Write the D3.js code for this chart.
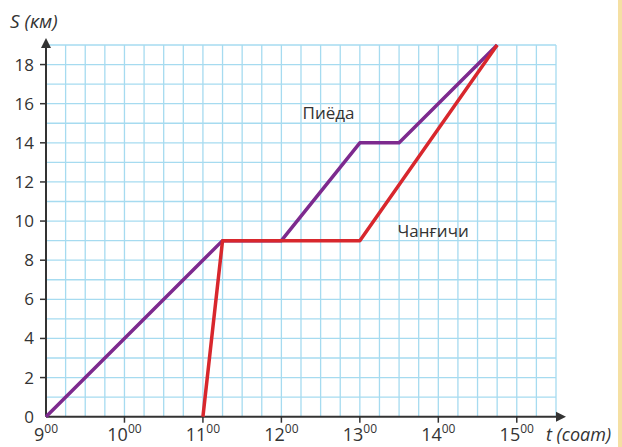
<!DOCTYPE html>
<html>
<head>
<meta charset="utf-8">
<script src="https://cdn.jsdelivr.net/npm/d3@7"></script>
<style>
    body { margin: 0; background: #fff; }
    svg text { font-family: "Open Sans", "Noto Sans", sans-serif; fill: #333; }
</style>
</head>
<body>
<div id="chart"></div>
<script>
// hours on x, km on y
var hourTicks = [9, 10, 11, 12, 13, 14, 15];
var kmTicks = [0, 2, 4, 6, 8, 10, 12, 14, 16, 18];

// пиёда (pedestrian)
var walkerTime = [9, 11.25, 12, 13, 13.5, 14.75];
var walkerDist = [0, 9, 9, 14, 14, 19];

// чанғичи (skier)
var skierTime = [11, 11.25, 13, 14.75];
var skierDist = [0, 9, 9, 19];

var width = 622, height = 447;

var svg = d3.select('#chart')
    .append('svg')
    .attr('width', width)
    .attr('height', height);

var x = d3.scaleLinear().domain([9, 15.5]).range([46, 556]);
var y = d3.scaleLinear().domain([0, 19]).range([416.7, 45]);

// yellow strip on the right edge
svg.append('rect')
    .attr('x', 618).attr('y', 0)
    .attr('width', 4).attr('height', height)
    .attr('fill', '#f5e0a3');

// grid
var grid = svg.append('g').attr('class', 'grid');
grid.selectAll('line.v')
    .data(d3.range(9.25, 15.51, 0.25))
    .enter().append('line')
    .attr('class', 'v')
    .attr('x1', function (d) { return x(d); })
    .attr('x2', function (d) { return x(d); })
    .attr('y1', y(0)).attr('y2', y(19))
    .attr('stroke', '#a6dbf0')
    .attr('stroke-width', 1.3);
grid.selectAll('line.h')
    .data(d3.range(1, 20))
    .enter().append('line')
    .attr('class', 'h')
    .attr('x1', x(9)).attr('x2', x(15.5))
    .attr('y1', function (d) { return y(d); })
    .attr('y2', function (d) { return y(d); })
    .attr('stroke', '#a6dbf0')
    .attr('stroke-width', 1.3);

// axes
var axisColor = '#333';
svg.append('line')
    .attr('x1', x(9)).attr('x2', 560)
    .attr('y1', y(0)).attr('y2', y(0))
    .attr('stroke', axisColor).attr('stroke-width', 2);
svg.append('path')
    .attr('d', 'M566,' + y(0) + ' l-10,-5 l0,10 z')
    .attr('fill', axisColor);
svg.append('line')
    .attr('x1', x(9)).attr('x2', x(9))
    .attr('y1', y(0)).attr('y2', 44)
    .attr('stroke', axisColor).attr('stroke-width', 2);
svg.append('path')
    .attr('d', 'M' + x(9) + ',38 l-5,10 l10,0 z')
    .attr('fill', axisColor);

// y ticks + labels
var yt = svg.append('g');
yt.selectAll('line')
    .data(kmTicks.filter(function (d) { return d > 0; }))
    .enter().append('line')
    .attr('x1', x(9) - 6).attr('x2', x(9))
    .attr('y1', function (d) { return y(d); })
    .attr('y2', function (d) { return y(d); })
    .attr('stroke', axisColor).attr('stroke-width', 1.5);
yt.selectAll('text')
    .data(kmTicks)
    .enter().append('text')
    .attr('x', 34)
    .attr('y', function (d) { return y(d) + 6; })
    .attr('text-anchor', 'end')
    .attr('font-size', 17)
    .text(function (d) { return d; });

// x ticks + labels with superscript minutes
var xt = svg.append('g');
xt.selectAll('line')
    .data(hourTicks.filter(function (d) { return d > 9; }))
    .enter().append('line')
    .attr('x1', function (d) { return x(d); })
    .attr('x2', function (d) { return x(d); })
    .attr('y1', y(0)).attr('y2', y(0) + 6)
    .attr('stroke', axisColor).attr('stroke-width', 1.5);
var xl = xt.selectAll('text')
    .data(hourTicks)
    .enter().append('text')
    .attr('x', function (d) { return x(d); })
    .attr('y', 441)
    .attr('text-anchor', 'middle')
    .attr('font-size', 18);
xl.append('tspan').text(function (d) { return d; });
xl.append('tspan')
    .attr('font-size', 12)
    .attr('dy', -8)
    .text('00');

// axis titles
svg.append('text')
    .attr('x', 10).attr('y', 28)
    .attr('font-size', 19)
    .attr('font-style', 'italic')
    .text('S (км)');
svg.append('text')
    .attr('x', 546).attr('y', 441)
    .attr('font-size', 18)
    .attr('font-style', 'italic')
    .text('t (соат)');

// lines
var line = d3.line()
    .x(function (d) { return x(d[0]); })
    .y(function (d) { return y(d[1]); });

svg.append('path')
    .datum(d3.zip(walkerTime, walkerDist))
    .attr('d', line)
    .attr('fill', 'none')
    .attr('stroke', '#7d2a8e')
    .attr('stroke-width', 3.5)
    .attr('stroke-linejoin', 'round');

svg.append('path')
    .datum(d3.zip(skierTime, skierDist))
    .attr('d', line)
    .attr('fill', 'none')
    .attr('stroke', '#d8272d')
    .attr('stroke-width', 3.5)
    .attr('stroke-linejoin', 'round');

// series labels
svg.append('text')
    .attr('x', x(12.27)).attr('y', y(15.2))
    .attr('font-size', 17)
    .attr('fill', '#444')
    .text('Пиёда');
svg.append('text')
    .attr('x', x(13.48)).attr('y', y(9.2))
    .attr('font-size', 17)
    .attr('fill', '#444')
    .text('Чанғичи');
</script>
</body>
</html>
